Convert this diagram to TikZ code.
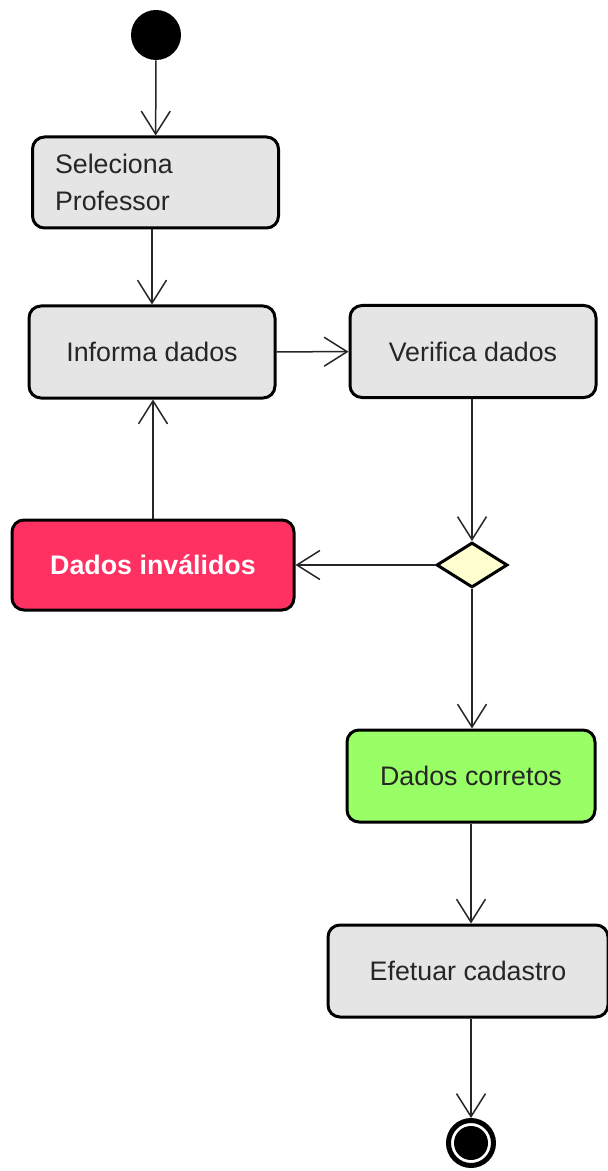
\documentclass[tikz,border=0pt]{standalone}
\usepackage{fontspec}
\setmainfont{Liberation Sans}
\usepackage{tikz}
\usetikzlibrary{positioning,arrows.meta,shapes.geometric}
\definecolor{actgray}{HTML}{E5E5E5}
\definecolor{actred}{HTML}{FF3162}
\definecolor{actgreen}{HTML}{99FF66}
\definecolor{actdiamond}{HTML}{FEFECE}

\begin{document}
\begin{tikzpicture}[
    x=0.5pt, y=-0.5pt,
    >={Straight Barb[length=11.5pt,width=14.5pt]},
    flow/.style={->, line width=0.75pt, draw=black!85},
    act/.style={rectangle, rounded corners=6pt, draw, line width=1.5pt, fill=actgray, minimum width=123pt, minimum height=46pt, font=\fontsize{13.4}{18.5}\selectfont, text=black!85},
    decision/.style={diamond, draw, line width=1.5pt, fill=actdiamond, minimum width=35.5pt, minimum height=22.5pt, inner sep=0pt},
    startstate/.style={circle, fill=black, minimum size=25pt, inner sep=0pt},
    endstate/.style={circle, draw, line width=2.5pt, minimum size=22.5pt, inner sep=0pt, path picture={\fill (path picture bounding box.center) circle (8.5pt);}}
]
\useasboundingbox (0,0) rectangle (608,1171);

% Column positions
\def\colL{152}
\def\colR{472}

% === Start and selection ===
\node[startstate] (start) at (156,35) {};
\node[act, align=left, text width=100.5pt, inner xsep=11pt, minimum height=45.5pt] (sel) at (155.5,182.5) {Seleciona\\Professor};
\draw[flow] (start) -- (sel);

% === Row: input and check ===
\node[act] (inf) at (\colL,352) {Informa dados};
\node[act] (ver) at (\colR+1,351.5) {Verifica dados};
\draw[flow] (inf.north |- sel.south) -- (inf.north);
\draw[flow] (inf) -- (ver);

% === Decision ===
\node[decision] (dec) at (\colR,565) {};
\node[act, fill=actred, text=white, font=\fontsize{13.4}{16}\selectfont\bfseries, minimum width=141pt, minimum height=45pt] (inv) at (153,565) {Dados inválidos};
\draw[flow] (dec.north |- ver.south) -- (dec.north);
\draw[flow] (dec) -- (inv);
\draw[flow] (inv.north) -- (inv.north |- inf.south);

% === Correct data and registration ===
\node[act, fill=actgreen, minimum width=124pt] (cor) at (\colR-1,776) {Dados corretos};
\node[act, minimum width=140pt] (efe) at (468,971) {Efetuar cadastro};
\node[endstate] (stop) at (\colR-1,1143) {};
\draw[flow] (dec.south) -- (dec.south |- cor.north);
\draw[flow] (cor.south) -- (cor.south |- efe.north);
\draw[flow] (stop |- efe.south) -- (stop);
\end{tikzpicture}
\end{document}
